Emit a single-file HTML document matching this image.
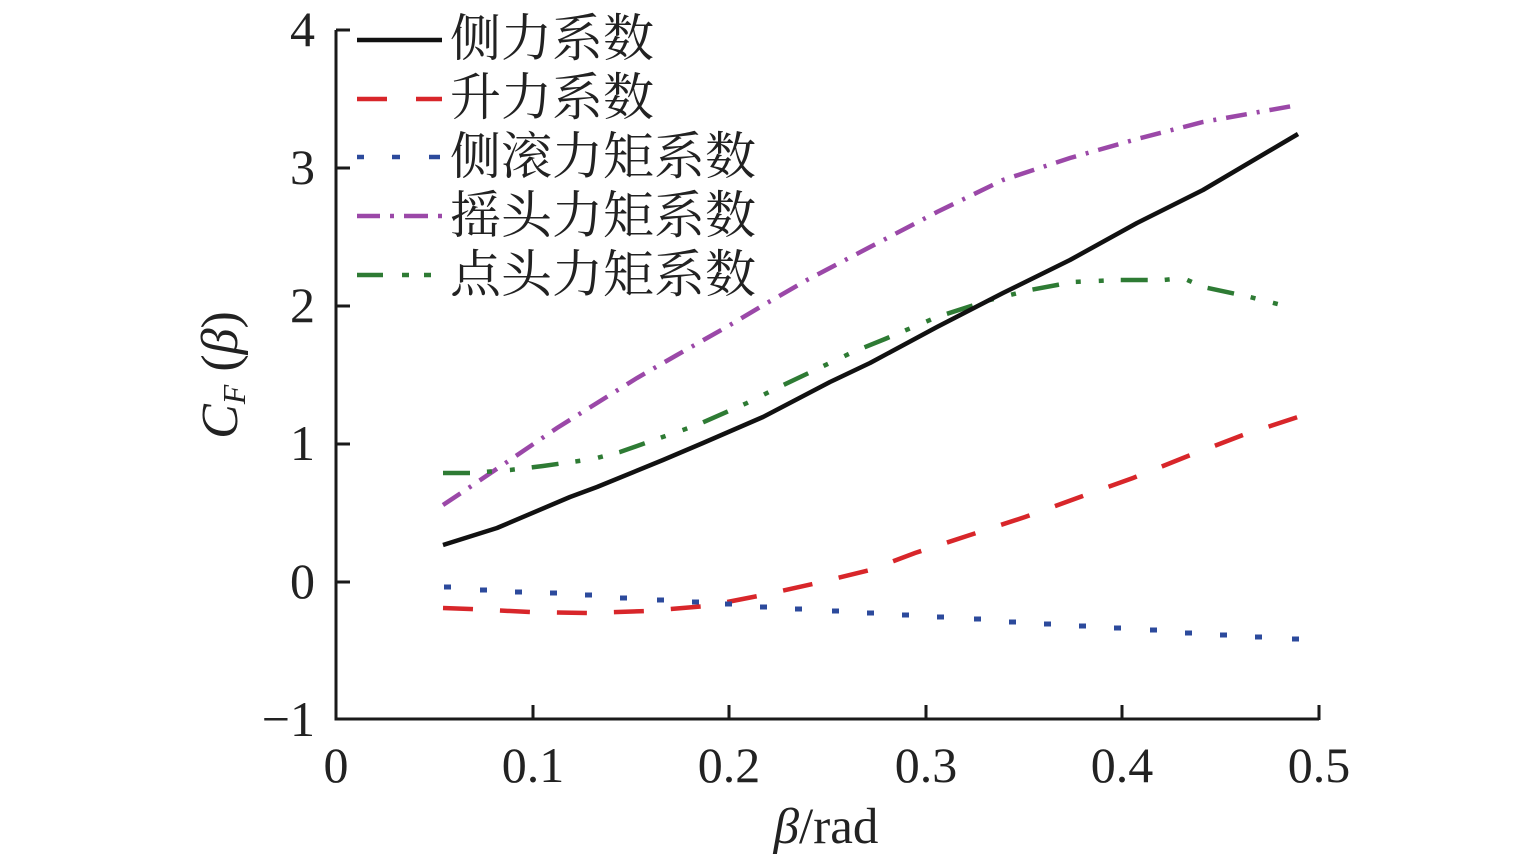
<!DOCTYPE html>
<html>
<head>
<meta charset="utf-8">
<style>
  html,body{margin:0;padding:0;background:#fff;}
  svg{display:block;}
  .tk{font-family:"Liberation Serif","DejaVu Serif",serif;font-size:50px;fill:#222;}
  .lg{font-family:"Liberation Serif","Noto Serif CJK SC","Noto Sans CJK SC",serif;font-size:51px;fill:#222;}
</style>
</head>
<body>
<svg width="1535" height="863" viewBox="0 0 1535 863" xmlns="http://www.w3.org/2000/svg">
  <rect width="1535" height="863" fill="#fff"/>

  <!-- axes -->
  <g stroke="#1a1a1a" stroke-width="3" fill="none">
    <polyline points="336,30 336,719 1319,719"/>
    <!-- y ticks -->
    <line x1="336" y1="30" x2="350" y2="30"/>
    <line x1="336" y1="168" x2="350" y2="168"/>
    <line x1="336" y1="306" x2="350" y2="306"/>
    <line x1="336" y1="444" x2="350" y2="444"/>
    <line x1="336" y1="582" x2="350" y2="582"/>
    <!-- x ticks -->
    <line x1="533" y1="719" x2="533" y2="705"/>
    <line x1="729" y1="719" x2="729" y2="705"/>
    <line x1="926" y1="719" x2="926" y2="705"/>
    <line x1="1122" y1="719" x2="1122" y2="705"/>
    <line x1="1319" y1="720" x2="1319" y2="705"/>
  </g>

  <!-- y tick labels -->
  <g class="tk" text-anchor="end">
    <text x="315" y="46">4</text>
    <text x="315" y="184">3</text>
    <text x="315" y="322">2</text>
    <text x="315" y="460">1</text>
    <text x="315" y="598">0</text>
    <text x="315" y="736">−1</text>
  </g>
  <!-- x tick labels -->
  <g class="tk" text-anchor="middle">
    <text x="336" y="782">0</text>
    <text x="533" y="782">0.1</text>
    <text x="729" y="782">0.2</text>
    <text x="926" y="782">0.3</text>
    <text x="1122" y="782">0.4</text>
    <text x="1319" y="782">0.5</text>
  </g>

  <!-- axis titles -->
  <text class="tk" x="826" y="843" text-anchor="middle" style="font-size:51px"><tspan font-style="italic">β</tspan>/rad</text>
  <text class="tk" transform="translate(237,375) rotate(-90)" text-anchor="middle" style="font-size:52px"><tspan font-style="italic">C</tspan><tspan font-style="italic" font-size="32" dy="8">F</tspan><tspan dy="-8"> (</tspan><tspan font-style="italic">β</tspan>)</text>

  <!-- series -->
  <!-- 摇头 purple dash-dot -->
  <path d="M443,505 L470,487 L507,462 L557,428 L597,403 L637,378 L677,355 L730,325 L767,303 L807,280 L870,247 L937,212 L1003,180 L1070,158 L1137,139 L1203,122 L1270,110 L1298,105"
        fill="none" stroke="#9b48a8" stroke-width="4.5" stroke-dasharray="21 10 3 10"/>
  <!-- 点头 green dash-dot-dot -->
  <path d="M443,473 L470,473 L510,470 L543,466 L593,459 L620,452 L697,425 L747,403 L777,388 L853,352 L885,339 L937,317 L990,300 L1030,290 L1073,282 L1117,280 L1163,280 L1183,278 L1203,287 L1250,297 L1293,308"
        fill="none" stroke="#2e7b34" stroke-width="4.5" stroke-dasharray="27 17 5 18 5 17"/>
  <!-- 升力 red dashed -->
  <path d="M443,608 L470,609 L530,612 L590,613 L647,611 L707,606 L763,595 L817,583 L870,570 L915,553 L970,535 L1025,517 L1080,497 L1133,478 L1188,456 L1243,435 L1298,417"
        fill="none" stroke="#d8262a" stroke-width="4.5" stroke-dasharray="30 27"/>
  <!-- 侧滚 blue dots -->
  <g stroke="#2c4a9c" stroke-width="5" fill="none">
    <line x1="444" y1="587" x2="451" y2="587"/>
    <line x1="480" y1="590" x2="487" y2="590"/>
    <line x1="515" y1="592" x2="522" y2="592"/>
    <line x1="550" y1="593" x2="557" y2="593"/>
    <line x1="585" y1="595" x2="592" y2="595"/>
    <line x1="620" y1="598" x2="627" y2="598"/>
    <line x1="657" y1="600" x2="664" y2="600"/>
    <line x1="692" y1="602" x2="699" y2="602"/>
    <line x1="725" y1="604" x2="732" y2="604"/>
    <line x1="760" y1="607" x2="767" y2="607"/>
    <line x1="795" y1="609" x2="802" y2="609"/>
    <line x1="832" y1="611" x2="839" y2="611"/>
    <line x1="867" y1="613" x2="874" y2="613"/>
    <line x1="902" y1="615" x2="909" y2="615"/>
    <line x1="937" y1="617" x2="944" y2="617"/>
    <line x1="974" y1="619" x2="981" y2="619"/>
    <line x1="1009" y1="622" x2="1016" y2="622"/>
    <line x1="1044" y1="624" x2="1051" y2="624"/>
    <line x1="1079" y1="626" x2="1086" y2="626"/>
    <line x1="1114" y1="628" x2="1121" y2="628"/>
    <line x1="1150" y1="630" x2="1157" y2="630"/>
    <line x1="1185" y1="633" x2="1192" y2="633"/>
    <line x1="1220" y1="635" x2="1227" y2="635"/>
    <line x1="1255" y1="637" x2="1262" y2="637"/>
    <line x1="1292" y1="639" x2="1299" y2="639"/>
  </g>
  <!-- 侧力 black solid -->
  <path d="M443,545 L497,528 L570,497 L597,487 L663,460 L703,443 L763,417 L830,382 L870,363 L937,327 L1003,293 L1070,260 L1137,223 L1203,190 L1298,134"
        fill="none" stroke="#111" stroke-width="4.5" stroke-linejoin="round"/>

  <!-- legend -->
  <g stroke-width="4.5" fill="none">
    <line x1="357" y1="40" x2="442" y2="40" stroke="#111"/>
    <line x1="357" y1="99" x2="387" y2="99" stroke="#d8262a"/>
    <line x1="416" y1="99" x2="442" y2="99" stroke="#d8262a"/>
    <line x1="357" y1="157" x2="364" y2="157" stroke="#2c4a9c"/>
    <line x1="392" y1="157" x2="400" y2="157" stroke="#2c4a9c"/>
    <line x1="429" y1="157" x2="440" y2="157" stroke="#2c4a9c"/>
    <line x1="357" y1="216" x2="380" y2="216" stroke="#9b48a8"/>
    <line x1="390" y1="216" x2="394" y2="216" stroke="#9b48a8"/>
    <line x1="404" y1="216" x2="428" y2="216" stroke="#9b48a8"/>
    <line x1="438" y1="216" x2="442" y2="216" stroke="#9b48a8"/>
    <line x1="357" y1="275" x2="383" y2="275" stroke="#2e7b34"/>
    <line x1="402" y1="275" x2="409" y2="275" stroke="#2e7b34"/>
    <line x1="424" y1="275" x2="431" y2="275" stroke="#2e7b34"/>
  </g>
  <g class="lg">
    <text x="450" y="56">侧力系数</text>
    <text x="450" y="115">升力系数</text>
    <text x="450" y="174">侧滚力矩系数</text>
    <text x="450" y="233">摇头力矩系数</text>
    <text x="450" y="292">点头力矩系数</text>
  </g>
</svg>
</body>
</html>
